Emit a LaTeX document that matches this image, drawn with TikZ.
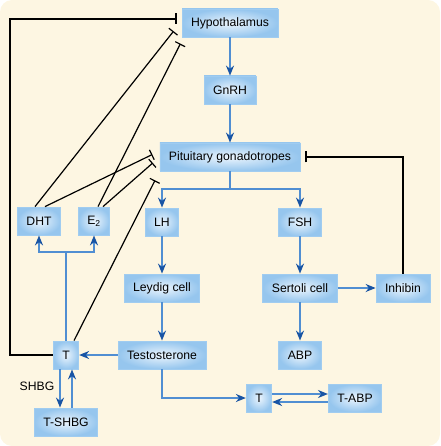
\documentclass[tikz,border=0pt]{standalone}
\usepackage{fontspec}
\setmainfont{Liberation Sans}
\usetikzlibrary{arrows.meta}
\definecolor{paper}{RGB}{253,246,226}
\definecolor{boxout}{RGB}{150,198,238}
\definecolor{boxin}{RGB}{236,245,253}
\definecolor{boxedge}{RGB}{160,204,240}
\definecolor{lineblue}{RGB}{80,142,210}
\definecolor{tipblue}{RGB}{24,84,164}
\tikzset{
  box/.style={draw=boxedge,line width=0.8pt,inner color=boxin,outer color=boxout,
    minimum height=28pt,inner xsep=9pt,inner ysep=0pt,font=\fontsize{12.2}{14}\selectfont},
  flow/.style={draw=lineblue,line width=2pt,-{Stealth[length=10pt,width=8pt,color=tipblue]}},
  flowline/.style={draw=lineblue,line width=2pt},
  inhib/.style={draw=black,line width=1.2pt,-{Bar[width=11pt,line width=1.2pt]}}
}
\begin{document}
\begin{tikzpicture}[x=1pt,y=-1pt]
		\useasboundingbox (0,0) rectangle (440,446);
		\fill[paper,rounded corners=12pt] (0,0) rectangle (440,446);
		% boxes
		\node[box] (hyp) at (230,23) {Hypothalamus};
		\node[box] (gnrh) at (230,90) {GnRH};
		\node[box] (pit) at (230,157) {Pituitary gonadotropes};
		\node[box] (lh) at (162,222) {LH};
		\node[box] (fsh) at (300,222) {FSH};
		\node[box] (dht) at (39,221) {DHT};
		\node[box] (estr) at (94,221) {E\textsubscript{2}};
		\node[box] (leydig) at (162,288) {Leydig cell};
		\node[box] (sertoli) at (300,288) {Sertoli cell};
		\node[box] (inhibin) at (403,288) {Inhibin};
		\node[box] (abp) at (300,355) {ABP};
		\node[box] (testo) at (162,355) {Testosterone};
		\node[box] (tl) at (66,355) {T};
		\node[box] (tshbg) at (66,422) {T-SHBG};
		\node[box] (tr) at (259,398) {T};
		\node[box] (tabp) at (355,398) {T-ABP};
		\node[font=\fontsize{12.2}{14}\selectfont] (shbg) at (37,386) {SHBG};
		\coordinate (split) at (230,189);
		\coordinate (tsplit) at (66,252);
		\coordinate (corner) at (10,19);
		% stimulation
		\draw[flow] (hyp) -- (gnrh);
		\draw[flow] (gnrh) -- (pit);
		\draw[flowline] (pit) -- (split);
		\draw[flow] (split) -| (lh.north);
		\draw[flow] (split) -| (fsh.north);
		\draw[flow] (lh) -- (leydig);
		\draw[flow] (leydig) -- (testo);
		\draw[flow] (fsh) -- (sertoli);
		\draw[flow] (sertoli) -- (abp);
		\draw[flow] (sertoli) -- (inhibin);
		\draw[flow] (testo) -- (tl);
		\draw[flow] (testo.south) |- (tr.west);
		\draw[flow] ([yshift=4pt]tr.east) -- ([yshift=4pt]tabp.west);
		\draw[flow] ([yshift=-4pt]tabp.west) -- ([yshift=-4pt]tr.east);
		\draw[flow] ([xshift=-6pt]tl.south) -- ([xshift=-6pt]tshbg.north);
		\draw[flow] ([xshift=6pt]tshbg.north) -- ([xshift=6pt]tl.south);
		\draw[flowline] (tl) -- (tsplit);
		\draw[flow] (tsplit) -| (dht.south);
		\draw[flow] (tsplit) -| (estr.south);
		% feedback
		\draw[inhib,shorten >=5pt] (inhibin.north) |- (pit.east);
		\draw[inhib,shorten >=5pt] (tl.west) -| (corner) -- ([yshift=4pt]hyp.west);
		\draw[inhib,shorten >=13pt] ([xshift=-4pt]dht.north) -- ([yshift=2pt]hyp.west);
		\draw[inhib,shorten >=7pt] ([xshift=4pt]estr.north) -- ([xshift=2pt]hyp.south west);
		\draw[inhib,shorten >=8pt] ([xshift=6pt]dht.north) -- ([yshift=6pt]pit.west);
		\draw[inhib,shorten >=9pt] ([xshift=9pt]estr.north) -- (pit.west);
		\draw[inhib,shorten >=10pt] ([xshift=8pt]tl.north) -- (pit.south west);
		\end{tikzpicture}
\end{document}
